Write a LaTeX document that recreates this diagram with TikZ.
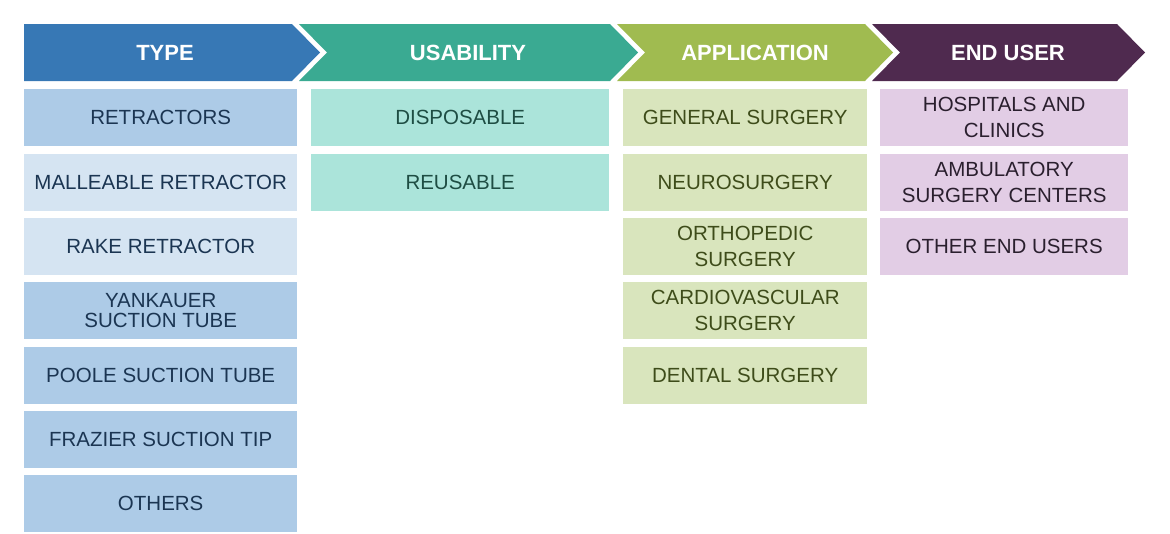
\documentclass[tikz,border=0pt]{standalone}
\usepackage{fontspec}
\setmainfont{Liberation Sans}
\definecolor{typeHead}{RGB}{55,120,181}
\definecolor{useHead}{RGB}{58,170,146}
\definecolor{appHead}{RGB}{160,187,80}
\definecolor{endHead}{RGB}{79,42,79}
\definecolor{typeCell}{RGB}{173,203,231}
\definecolor{typeLight}{RGB}{213,228,242}
\definecolor{useCell}{RGB}{171,228,218}
\definecolor{appCell}{RGB}{217,229,189}
\definecolor{endCell}{RGB}{226,205,229}
\definecolor{typeText}{RGB}{27,53,82}
\definecolor{useText}{RGB}{30,77,67}
\definecolor{appText}{RGB}{62,76,26}
\definecolor{endText}{RGB}{42,31,46}

\begin{document}
\begin{tikzpicture}[x=1pt, y=-1pt,
	hdr/.style={text=white, font=\fontsize{22}{26}\selectfont\bfseries},
	cell/.style={anchor=north west, minimum height=57pt, inner sep=0pt,
		align=center, font=\fontsize{20.5}{26}\selectfont},
	typecell/.style={cell, fill=typeCell, text=typeText, minimum width=273pt},
	typelight/.style={typecell, fill=typeLight},
	usecell/.style={cell, fill=useCell, text=useText, minimum width=298pt},
	appcell/.style={cell, fill=appCell, text=appText, minimum width=244pt},
	endcell/.style={cell, fill=endCell, text=endText, minimum width=248pt}]
	
	\useasboundingbox (0,0) rectangle (1170,533);
	
	%========================
	% header chevrons
	%========================
	\fill[typeHead] (24,24) -- (292,24) -- (320,52.5) -- (292,81) -- (24,81) -- cycle;
	\fill[useHead] (299,24) -- (610,24) -- (638,52.5) -- (610,81) -- (299,81) -- (327,52.5) -- cycle;
	\fill[appHead] (617,24) -- (865,24) -- (893,52.5) -- (865,81) -- (617,81) -- (645,52.5) -- cycle;
	\fill[endHead] (872,24) -- (1117,24) -- (1145,52.5) -- (1117,81) -- (872,81) -- (900,52.5) -- cycle;
	
	\node[hdr] (hType) at (165,52.5) {TYPE};
	\node[hdr] (hUse) at (468,52.5) {USABILITY};
	\node[hdr] (hApp) at (755,52.5) {APPLICATION};
	\node[hdr] (hEnd) at (1008,52.5) {END USER};
	
	%========================
	% type
	%========================
	\node[typecell] (tRetr) at (24,89) {RETRACTORS};
	\node[typelight] (tMall) at (24,153.3) {MALLEABLE RETRACTOR};
	\node[typelight] (tRake) at (24,217.7) {RAKE RETRACTOR};
	\node[typecell, font=\fontsize{20.5}{20.5}\selectfont] (tYank) at (24,282) {YANKAUER\\SUCTION TUBE};
	\node[typecell] (tPool) at (24,346.3) {POOLE SUCTION TUBE};
	\node[typecell] (tFraz) at (24,410.7) {FRAZIER SUCTION TIP};
	\node[typecell] (tOth) at (24,475) {OTHERS};
	
	%========================
	% usability
	%========================
	\node[usecell] (uDisp) at (311,89) {DISPOSABLE};
	\node[usecell] (uReus) at (311,153.3) {REUSABLE};
	
	%========================
	% application
	%========================
	\node[appcell] (aGen) at (623,89) {GENERAL SURGERY};
	\node[appcell] (aNeuro) at (623,153.3) {NEUROSURGERY};
	\node[appcell] (aOrtho) at (623,217.7) {ORTHOPEDIC\\SURGERY};
	\node[appcell] (aCardio) at (623,282) {CARDIOVASCULAR\\SURGERY};
	\node[appcell] (aDent) at (623,346.3) {DENTAL SURGERY};
	
	%========================
	% end user
	%========================
	\node[endcell] (eHosp) at (880,89) {HOSPITALS AND\\CLINICS};
	\node[endcell] (eAmb) at (880,153.3) {AMBULATORY\\SURGERY CENTERS};
	\node[endcell] (eOth) at (880,217.7) {OTHER END USERS};
	
\end{tikzpicture}
\end{document}
